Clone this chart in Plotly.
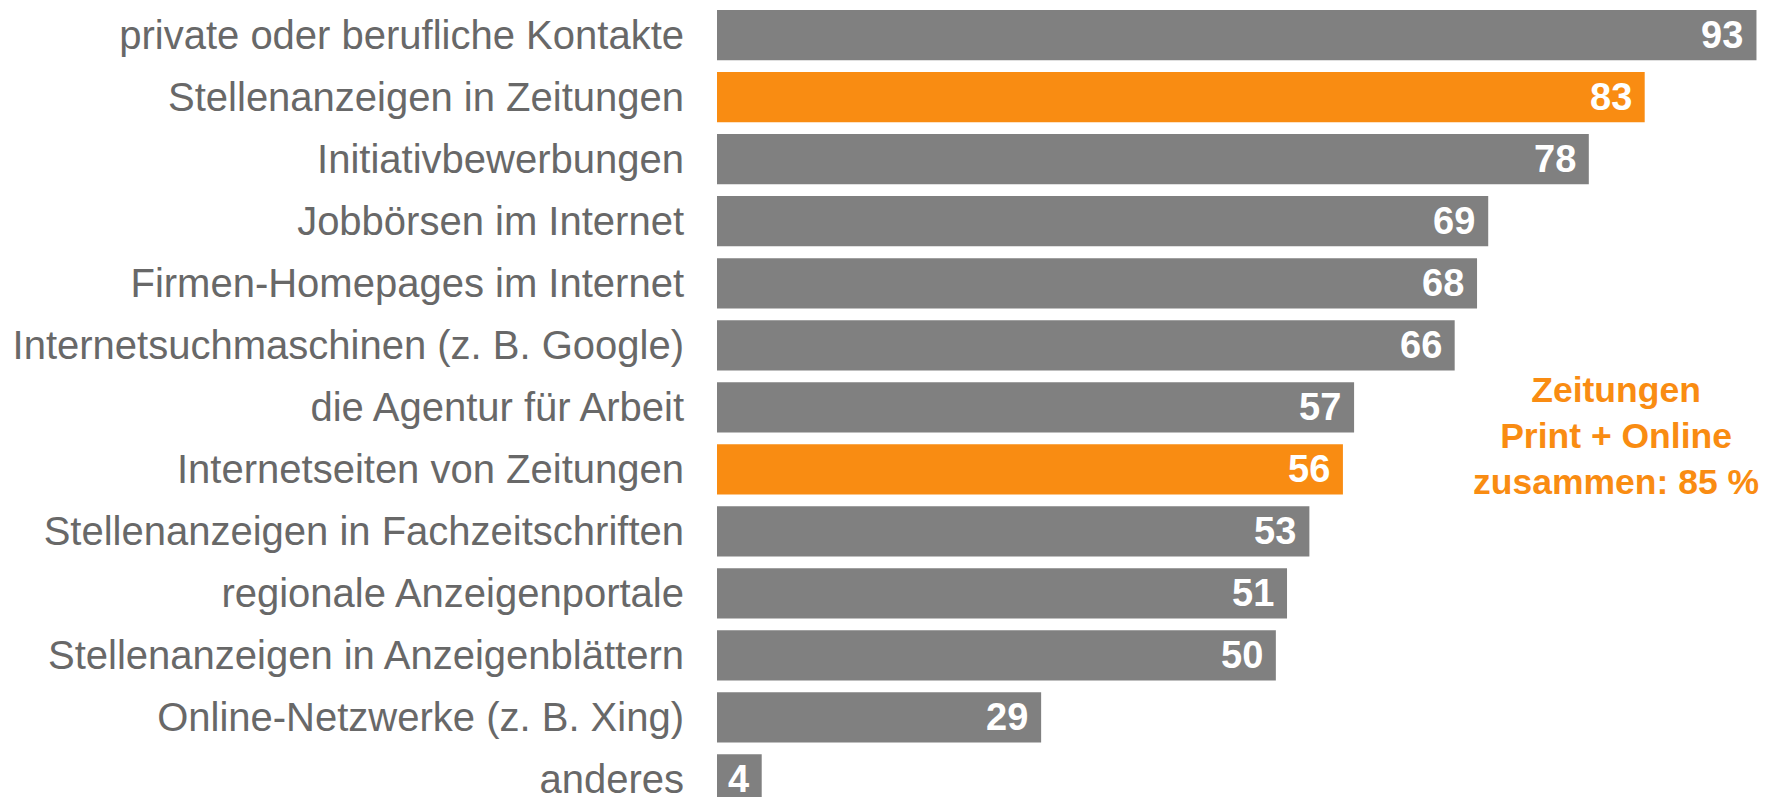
import plotly.graph_objects as go

categories = [
    "private oder berufliche Kontakte",
    "Stellenanzeigen in Zeitungen",
    "Initiativbewerbungen",
    "Jobbörsen im Internet",
    "Firmen-Homepages im Internet",
    "Internetsuchmaschinen (z. B. Google)",
    "die Agentur für Arbeit",
    "Internetseiten von Zeitungen",
    "Stellenanzeigen in Fachzeitschriften",
    "regionale Anzeigenportale",
    "Stellenanzeigen in Anzeigenblättern",
    "Online-Netzwerke (z. B. Xing)",
    "anderes",
]
values = [93, 83, 78, 69, 68, 66, 57, 56, 53, 51, 50, 29, 4]
highlight = [False, True, False, False, False, False, False, True, False, False, False, False, False]
note_lines = ["Zeitungen", "Print + Online", "zusammen: 85 %"]

GRAY = "#808080"
ORANGE = "#F98C12"
colors = [ORANGE if h else GRAY for h in highlight]
FONT = "Liberation Sans, Arial, sans-serif"

fig = go.Figure()
fig.add_trace(go.Bar(
    x=values,
    y=categories,
    orientation="h",
    marker=dict(color=colors, line=dict(width=0)),
    hoverinfo="skip",
))

for c, v in zip(categories, values):
    fig.add_annotation(
        x=v, y=c, xref="x", yref="y",
        text=f"<b>{v}</b>", showarrow=False,
        xanchor="right", yanchor="middle", xshift=-11,
        font=dict(family=FONT, size=38, color="white"),
    )

fig.add_annotation(
    x=0.853, y=0.458, xref="paper", yref="paper",
    text="<b>" + "<br>".join(note_lines) + "</b>", showarrow=False,
    xanchor="center", yanchor="middle", align="center",
    font=dict(family=FONT, size=35.5, color=ORANGE),
)

fig.update_layout(
    width=1763, height=793,
    margin=dict(l=709, r=0, t=0, b=0),
    paper_bgcolor="white", plot_bgcolor="white",
    bargap=0.19,
    showlegend=False,
    xaxis=dict(range=[0, 94.3], visible=False, fixedrange=True),
    yaxis=dict(
        range=[12.283, -0.438],
        showgrid=False, zeroline=False, showline=False,
        ticks="", ticklabelstandoff=32,
        tickfont=dict(family=FONT, size=40, color="#686868"),
        fixedrange=True,
    ),
)

fig.write_html("out.html")
